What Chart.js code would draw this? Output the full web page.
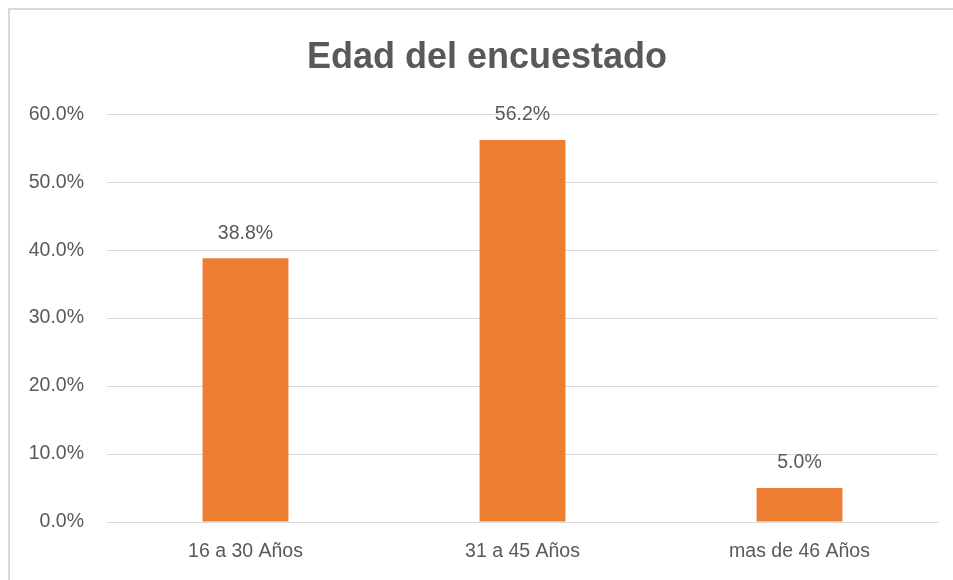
<!DOCTYPE html>
<html>
<head>
<meta charset="utf-8">
<script src="https://cdn.jsdelivr.net/npm/chart.js@4"></script>
<style>
  html, body { margin: 0; padding: 0; background: #fff; overflow: hidden; }
  #wrap { position: relative; width: 953px; height: 580px; overflow: hidden; }
  #frame { position: absolute; left: 8px; top: 8px; width: 1100px; height: 700px;
           border: 2px solid #d9d9d9; box-sizing: border-box; pointer-events: none; }
</style>
</head>
<body>
<div id="wrap">
  <canvas id="chart" width="953" height="580"></canvas>
  <div id="frame"></div>
</div>
<script>
const title = "Edad del encuestado";
const categories = ["16 a 30 Años", "31 a 45 Años", "mas de 46 Años"];
const values = [38.8, 56.2, 5.0];
const yTicks = [0, 10, 20, 30, 40, 50, 60];

const textColor = "#595959";
const fontFamily = "'Liberation Sans', Arial, sans-serif";

// value labels above each bar, and the title centred on the whole frame
const barLabels = {
  id: "barLabels",
  afterDatasetsDraw(chart) {
    const ctx = chart.ctx;
    const meta = chart.getDatasetMeta(0);
    ctx.save();
    ctx.fillStyle = textColor;
    ctx.font = "19.5px " + fontFamily;
    ctx.textAlign = "center";
    ctx.textBaseline = "middle";
    meta.data.forEach((bar, i) => {
      ctx.fillText(values[i].toFixed(1) + "%", bar.x, bar.y - 25);
    });
    const tb = chart.titleBlock;
    ctx.font = "bold 36px " + fontFamily;
    ctx.fillText(title, 487, tb.top + 36 + 21.6);
    ctx.restore();
  }
};

new Chart(document.getElementById("chart"), {
  type: "bar",
  data: {
    labels: categories,
    datasets: [{
      data: values,
      backgroundColor: "#ed7d31",
      barPercentage: 0.62,
      categoryPercentage: 0.5
    }]
  },
  options: {
    responsive: false,
    animation: false,
    events: [],
    layout: { padding: { left: 0, right: 15, top: 0, bottom: 0 } },
    plugins: {
      legend: { display: false },
      tooltip: { enabled: false },
      title: {
        display: true,
        text: title,
        color: "rgba(0,0,0,0)",
        font: { family: fontFamily, size: 36, weight: "bold" },
        padding: { top: 36, bottom: 35 }
      }
    },
    scales: {
      x: {
        afterFit(scale) { scale.height = 58; },
        grid: { display: false, drawTicks: false },
        border: { color: "#d9d9d9", width: 1 },
        ticks: {
          color: textColor,
          font: { family: fontFamily, size: 19.5 },
          padding: 18
        }
      },
      y: {
        min: 0,
        max: 60,
        afterBuildTicks(scale) {
          scale.ticks = yTicks.map(v => ({ value: v }));
        },
        afterFit(scale) { scale.width = 107; },
        grid: { color: "#d9d9d9", lineWidth: 1, drawTicks: false },
        border: { display: false },
        ticks: {
          color: textColor,
          font: { family: fontFamily, size: 19.5 },
          padding: 23,
          callback: v => v.toFixed(1) + "%"
        }
      }
    }
  },
  plugins: [barLabels]
});
</script>
</body>
</html>
